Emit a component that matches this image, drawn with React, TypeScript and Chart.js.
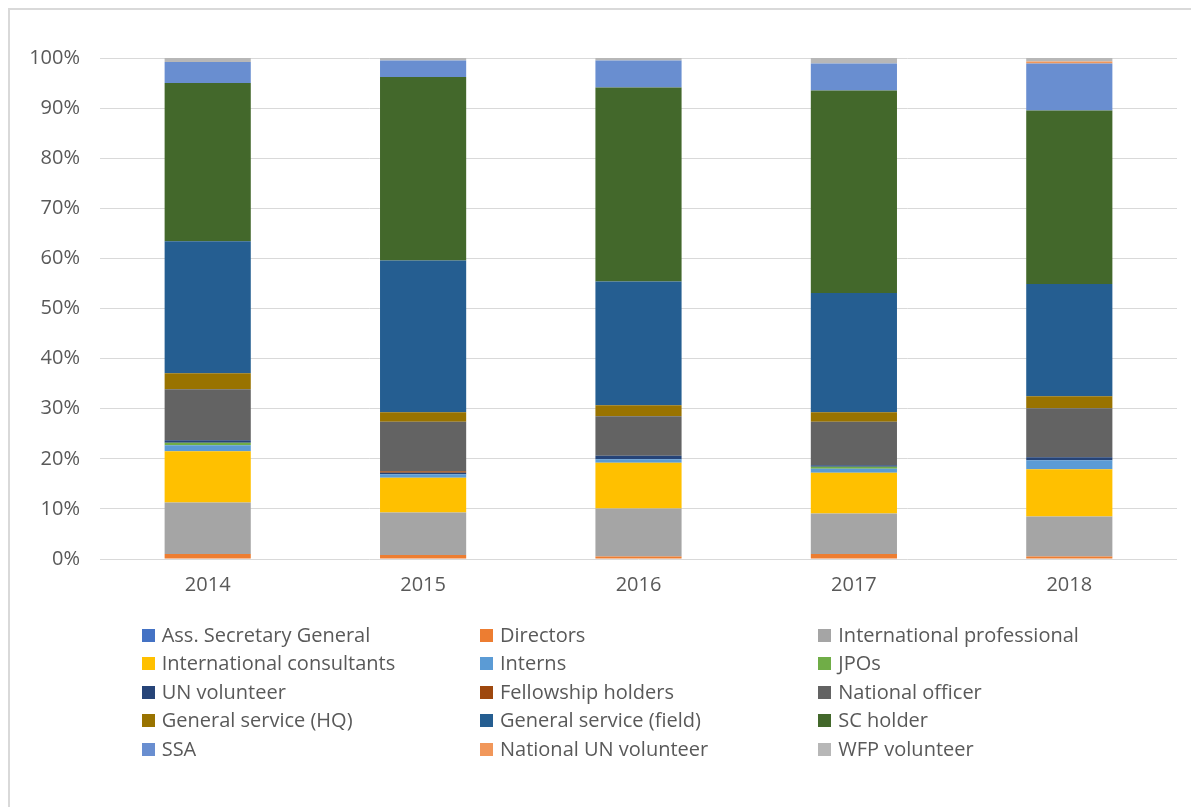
import React, { useEffect, useRef } from "react";
import { Chart, registerables } from "chart.js";

Chart.register(...registerables);

const years = ["2014", "2015", "2016", "2017", "2018"];
const yTickValues = [0, 10, 20, 30, 40, 50, 60, 70, 80, 90, 100];

const assSecretaryGeneral = [0, 0, 0, 0, 0];
const directors = [1.0, 0.8, 0.5, 1.0, 0.5];
const internationalProfessional = [10.3, 8.5, 9.6, 8.1, 8.0];
const internationalConsultants = [10.2, 6.9, 9.1, 8.1, 9.4];
const interns = [1.2, 0.7, 0.7, 0.8, 1.8];
const jpos = [0.5, 0, 0, 0.4, 0];
const unVolunteer = [0.5, 0.3, 0.7, 0.3, 0.6];
const fellowshipHolders = [0, 0.3, 0, 0, 0];
const nationalOfficer = [10.2, 9.9, 7.9, 8.7, 9.8];
const generalServiceHQ = [3.2, 1.9, 2.2, 1.9, 2.4];
const generalServiceField = [26.3, 30.3, 24.7, 23.8, 22.4];
const scHolder = [31.6, 36.6, 38.7, 40.4, 34.6];
const ssa = [4.2, 3.3, 5.4, 5.4, 9.4];
const nationalUNVolunteer = [0, 0, 0, 0, 0.4];
const wfpVolunteer = [0.8, 0.5, 0.5, 1.1, 0.7];

const seriesNames = [
  "Ass. Secretary General",
  "Directors",
  "International professional",
  "International consultants",
  "Interns",
  "JPOs",
  "UN volunteer",
  "Fellowship holders",
  "National officer",
  "General service (HQ)",
  "General service (field)",
  "SC holder",
  "SSA",
  "National UN volunteer",
  "WFP volunteer",
];
const seriesValues = [
  assSecretaryGeneral,
  directors,
  internationalProfessional,
  internationalConsultants,
  interns,
  jpos,
  unVolunteer,
  fellowshipHolders,
  nationalOfficer,
  generalServiceHQ,
  generalServiceField,
  scHolder,
  ssa,
  nationalUNVolunteer,
  wfpVolunteer,
];
const seriesColors = [
  "#4472C4",
  "#ED7D31",
  "#A5A5A5",
  "#FFC000",
  "#5B9BD5",
  "#70AD47",
  "#264478",
  "#9E480E",
  "#636363",
  "#997300",
  "#255E91",
  "#43682B",
  "#698ED0",
  "#F1975A",
  "#B7B7B7",
];

const FONT = "'Open Sans', 'DejaVu Sans', sans-serif";
const TEXT = "#595959";

export default function App() {
  const canvasRef = useRef<HTMLCanvasElement | null>(null);

  useEffect(() => {
    const canvas = canvasRef.current;
    if (!canvas) return;
    const chart = new Chart(canvas, {
      type: "bar",
      data: {
        labels: years,
        datasets: seriesNames.map((name, i) => ({
          label: name,
          data: seriesValues[i],
          backgroundColor: seriesColors[i],
          borderWidth: 0,
          barPercentage: 0.4,
          categoryPercentage: 1,
        })),
      },
      options: {
        responsive: false,
        maintainAspectRatio: false,
        animation: false,
        events: [],
        layout: { padding: { top: 48, right: 22, left: 0, bottom: 0 } },
        plugins: {
          legend: { display: false },
          tooltip: { enabled: false },
          title: { display: false },
        },
        scales: {
          x: {
            stacked: true,
            grid: { display: false, drawTicks: false },
            border: { display: false },
            ticks: {
              color: TEXT,
              font: { family: FONT, size: 20 },
              padding: 14,
            },
            afterFit: (s: any) => {
              s.height = 71;
            },
          },
          y: {
            stacked: true,
            min: 0,
            max: 100,
            afterBuildTicks: (s: any) => {
              s.ticks = yTickValues.map((v) => ({ value: v }));
            },
            grid: { color: "#d9d9d9", lineWidth: 1, drawTicks: false },
            border: { display: false },
            ticks: {
              color: TEXT,
              font: { family: FONT, size: 20 },
              padding: 20,
              callback: (v: any) => v + "%",
            },
            afterFit: (s: any) => {
              s.width = 90;
            },
          },
        },
      },
    });
    return () => chart.destroy();
  }, []);

  return (
    <div
      style={{
        position: "relative",
        width: 1199,
        height: 807,
        borderLeft: "2px solid #d9d9d9",
        borderTop: "2px solid #d9d9d9",
        background: "#ffffff",
      }}
    >
      <canvas
        ref={canvasRef}
        width={1189}
        height={620}
        style={{ position: "absolute", left: 0, top: 0, width: 1189, height: 620 }}
      />
      <div
        style={{
          position: "absolute",
          left: 131.7,
          top: 610.75,
          display: "grid",
          gridTemplateColumns: "338.3px 338.3px 338.3px",
          gridAutoRows: "28.5px",
          fontFamily: FONT,
          fontSize: 20,
          color: TEXT,
        }}
      >
        {seriesNames.map((name, i) => (
          <div
            key={name}
            style={{ display: "flex", alignItems: "center", whiteSpace: "nowrap", lineHeight: "28.5px" }}
          >
            <span
              style={{
                display: "inline-block",
                width: 13,
                height: 13,
                background: seriesColors[i],
                marginRight: 7,
                flex: "none",
              }}
            />
            <span>{name}</span>
          </div>
        ))}
      </div>
    </div>
  );
}
